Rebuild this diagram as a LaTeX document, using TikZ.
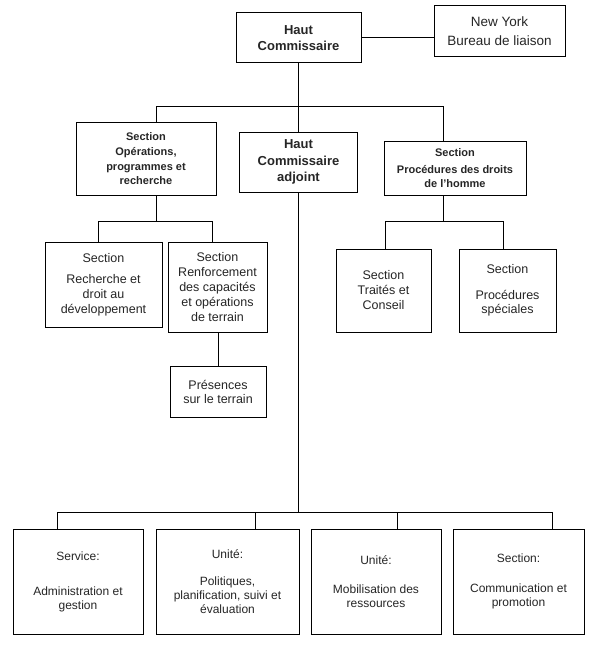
\documentclass[tikz,border=0pt]{standalone}
\usepackage{fontspec}
\setmainfont{Liberation Sans}
\begin{document}
\begin{tikzpicture}[x=1pt,y=-1pt,
 box/.style={draw, line width=1pt, align=center, inner sep=0pt, text=black!85, fill=white},
 wire/.style={line width=1pt},
 bigb/.style={font=\bfseries\fontsize{13}{16.5}\selectfont},
 smallb/.style={font=\bfseries\fontsize{11}{14.7}\selectfont},
 body/.style={font=\fontsize{12.5}{15}\selectfont},
 bottom/.style={font=\fontsize{12}{14}\selectfont, minimum height=105}]
\useasboundingbox[fill=white] (0,0) rectangle (600,650);
% nodes
\node[box, bigb, minimum width=125, minimum height=50] (hc) at (298.5,38) {Haut\\Commissaire};
\node[box, font=\fontsize{13.5}{19}\selectfont, minimum width=131, minimum height=51] (ny) at (499.5,31.5) {New York\\Bureau de liaison};
\node[box, smallb, minimum width=140, minimum height=72] (ops) at (146,159) {Section\\Opérations,\\programmes et\\recherche};
\node[box, bigb, minimum width=118, minimum height=60] (hca) at (298.5,162) {Haut\\Commissaire\\adjoint};
\node[box, smallb, minimum width=142, minimum height=54, font=\bfseries\fontsize{11}{14}\selectfont] (proc) at (455,168) {Section\\[3pt]Procédures des droits\\de l’homme};
\node[box, body, minimum width=117, minimum height=85] (rech) at (103.5,284.5) {Section\\[6pt]Recherche et\\droit au\\développement};
\node[box, body, minimum width=99, minimum height=90] (renf) at (217.5,287) {Section\\Renforcement\\des capacités\\et opérations\\de terrain};
\node[box, body, minimum width=96, minimum height=51, font=\fontsize{12.5}{14}\selectfont] (pres) at (218,391.5) {Présences\\sur le terrain};
\node[box, body, minimum width=95, minimum height=83] (trai) at (383.5,290.5) {Section\\Traités et\\Conseil};
\node[box, body, minimum width=97, minimum height=83, font=\fontsize{12.5}{14}\selectfont] (spec) at (507.5,290.5) {Section\\[12pt]Procédures\\spéciales};
\node[box, bottom, minimum width=130] (serv) at (78,581.5) {Service:\\[21pt]Administration et\\gestion};
\node[box, bottom, minimum width=143] (poli) at (227.5,581.5) {Unité:\\[13pt]Politiques,\\planification, suivi et\\évaluation};
\node[box, bottom, minimum width=130] (mobi) at (376,581.5) {Unité:\\[15pt]Mobilisation des\\ressources};
\node[box, bottom, minimum width=131] (comm) at (518.5,581.5) {Section:\\[16pt]Communication et\\promotion};
% coordinates
\coordinate (tL) at (156,107);
\coordinate (tR) at (443,107);
\coordinate (oA) at (156,221);
\coordinate (oL) at (98,221);
\coordinate (oR) at (212,221);
\coordinate (pA) at (443,221);
\coordinate (pL) at (385,221);
\coordinate (pR) at (503,221);
\coordinate (bM) at (298.5,512);
\coordinate (bL) at (57,512);
\coordinate (b2) at (255,512);
\coordinate (b3) at (397,512);
\coordinate (bR) at (552,512);
% connectors
\draw[wire] (hc.east) -- (hc.east -| ny.west);
\draw[wire] (hc.south) -- (hca.north);
\draw[wire] (tL |- ops.north) -- (tL) -- (tR) -- (tR |- proc.north);
\draw[wire] (ops.south -| oA) -- (oA);
\draw[wire] (oL |- rech.north) -- (oL) -- (oR) -- (oR |- renf.north);
\draw[wire] (renf.south -| pres.north) -- (pres.north);
\draw[wire] (proc.south -| pA) -- (pA);
\draw[wire] (pL |- trai.north) -- (pL) -- (pR) -- (pR |- spec.north);
\draw[wire] (hca.south) -- (bM);
\draw[wire] (bL |- serv.north) -- (bL) -- (bR) -- (bR |- comm.north);
\draw[wire] (b2) -- (b2 |- poli.north);
\draw[wire] (b3) -- (b3 |- mobi.north);
\end{tikzpicture}
\end{document}
